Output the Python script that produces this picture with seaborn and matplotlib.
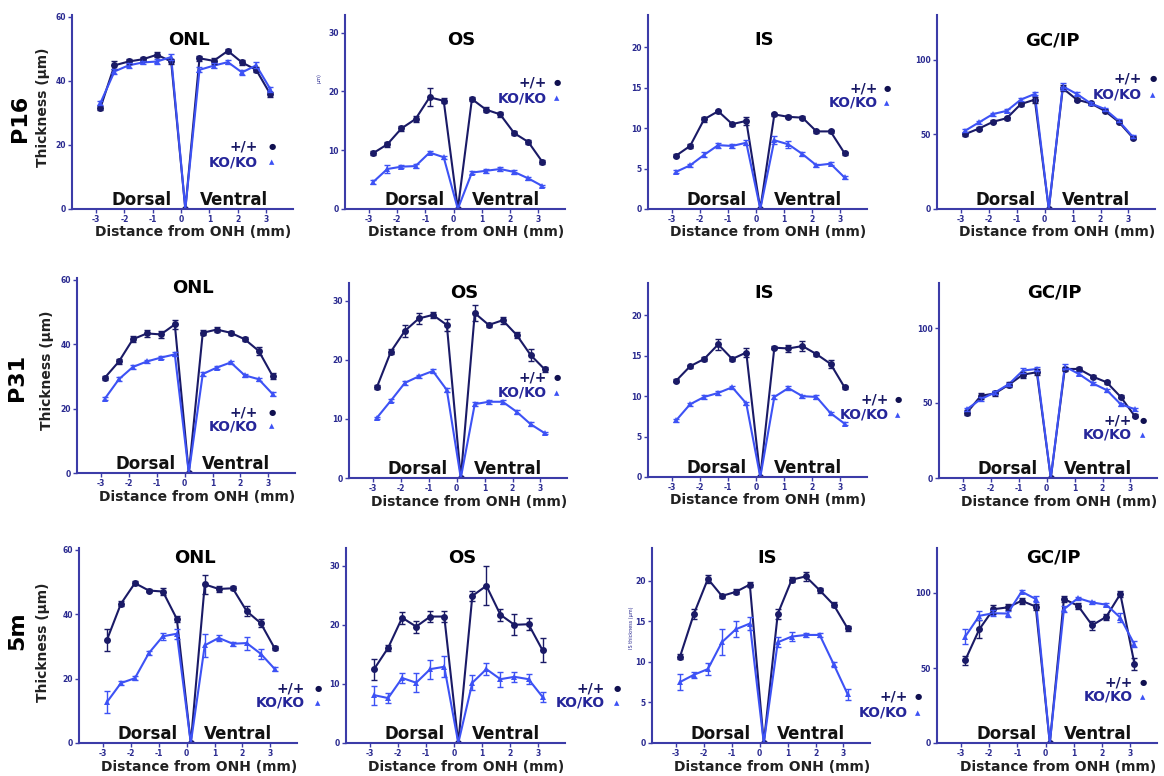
import numpy as np
import pandas as pd
import matplotlib
matplotlib.use("Agg")
import matplotlib.pyplot as plt
import matplotlib.transforms as mtransforms
import seaborn as sns

# ================================
# DATA
# ================================
DIST = [-2.85, -2.35, -1.85, -1.35, -0.85, -0.35, 0.15, 0.65, 1.15, 1.65, 2.15, 2.65, 3.15]
AGES = ["P16", "P31", "5m"]
LAYERS = ["ONL", "OS", "IS", "GC/IP"]
XTICKS = [-3, -2, -1, 0, 1, 2, 3]

YTICKS = {
    "ONL": [0, 20, 40, 60],
    "OS": [0, 10, 20, 30],
    "IS": [0, 5, 10, 15, 20],
    "GC/IP": [0, 50, 100],
}
YTOP = {"ONL": 60.5, "OS": 33, "IS": 24, "GC/IP": 130}

# P16
P16_ONL_WT = [31.5, 44.8, 46.0, 46.7, 48.1, 46.0, 0, 47.0, 46.2, 49.3, 45.7, 43.4, 35.8]
P16_ONL_WT_ERR = [0.7, 1.2, 0.8, 0.7, 0.8, 0.8, 0, 0.8, 1.0, 0.7, 0.9, 0.8, 0.8]
P16_ONL_KO = [33.0, 42.9, 44.8, 45.7, 46.0, 47.4, 0, 43.4, 44.7, 45.8, 42.6, 44.8, 37.4]
P16_ONL_KO_ERR = [0.7, 0.8, 0.7, 0.6, 0.7, 0.8, 0, 0.8, 0.8, 0.7, 0.8, 0.9, 0.8]

P16_OS_WT = [9.5, 11.0, 13.7, 15.3, 19.0, 18.4, 0, 18.7, 16.9, 16.1, 12.9, 11.4, 8.0]
P16_OS_WT_ERR = [0.3, 0.4, 0.4, 0.5, 1.5, 0.4, 0, 0.4, 0.4, 0.4, 0.3, 0.3, 0.3]
P16_OS_KO = [4.6, 6.8, 7.2, 7.3, 9.6, 8.8, 0, 6.2, 6.5, 6.8, 6.3, 5.2, 3.9]
P16_OS_KO_ERR = [0.3, 0.6, 0.3, 0.3, 0.3, 0.3, 0, 0.3, 0.3, 0.3, 0.3, 0.3, 0.2]

P16_IS_WT = [6.6, 7.8, 11.1, 12.1, 10.5, 10.9, 0, 11.7, 11.4, 11.3, 9.6, 9.6, 6.9]
P16_IS_WT_ERR = [0.2, 0.2, 0.3, 0.2, 0.2, 0.5, 0, 0.2, 0.2, 0.2, 0.2, 0.2, 0.2]
P16_IS_KO = [4.6, 5.4, 6.7, 7.9, 7.8, 8.2, 0, 8.5, 8.0, 6.8, 5.4, 5.6, 3.9]
P16_IS_KO_ERR = [0.2, 0.2, 0.3, 0.3, 0.2, 0.3, 0, 0.5, 0.4, 0.3, 0.2, 0.2, 0.2]

P16_GC_WT = [50.1, 53.9, 58.4, 60.9, 70.3, 73.3, 0, 80.9, 73.3, 70.8, 65.8, 58.4, 47.9]
P16_GC_WT_ERR = [1, 1, 1, 1, 1.5, 2, 0, 2, 1, 1, 1, 1, 1]
P16_GC_KO = [52.4, 58.0, 63.6, 65.8, 73.3, 77.1, 0, 82.2, 77.1, 70.8, 67.0, 59.1, 48.5]
P16_GC_KO_ERR = [1, 1, 1, 1, 1, 1, 0, 2.5, 1, 1, 1, 1, 1]

# P31
P31_ONL_WT = [29.6, 34.6, 41.5, 43.3, 43.0, 46.1, 0, 43.5, 44.5, 43.5, 41.5, 37.9, 30.1]
P31_ONL_WT_ERR = [0.6, 0.8, 1, 1, 1, 1.5, 0, 0.8, 0.7, 0.7, 0.7, 1.2, 0.8]
P31_ONL_KO = [23.1, 29.1, 32.9, 34.6, 35.8, 36.8, 0, 30.7, 32.7, 34.3, 30.3, 29.1, 24.5]
P31_ONL_KO_ERR = [0.5, 0.6, 0.6, 0.5, 0.5, 0.6, 0, 0.6, 0.5, 0.5, 0.5, 0.5, 0.5]

P31_OS_WT = [15.4, 21.4, 24.9, 27.0, 27.6, 25.9, 0, 27.9, 25.9, 26.7, 24.2, 20.8, 18.4]
P31_OS_WT_ERR = [0.4, 0.4, 1, 1, 0.5, 1, 0, 1.3, 0.4, 0.6, 0.5, 1, 0.4]
P31_OS_KO = [10.2, 13.1, 16.1, 17.2, 18.1, 14.9, 0, 12.5, 12.9, 12.9, 11.2, 9.1, 7.6]
P31_OS_KO_ERR = [0.2, 0.3, 0.3, 0.3, 0.3, 0.3, 0, 0.3, 0.3, 0.3, 0.3, 0.3, 0.2]

P31_IS_WT = [11.9, 13.7, 14.6, 16.4, 14.6, 15.4, 0, 16.0, 15.9, 16.2, 15.2, 14.0, 11.1]
P31_IS_WT_ERR = [0.2, 0.2, 0.2, 0.7, 0.2, 0.5, 0, 0.2, 0.4, 0.6, 0.2, 0.5, 0.2]
P31_IS_KO = [7.0, 9.0, 9.9, 10.4, 11.1, 9.1, 0, 9.9, 11.0, 10.0, 9.9, 7.9, 6.6]
P31_IS_KO_ERR = [0.2, 0.2, 0.2, 0.2, 0.2, 0.2, 0, 0.2, 0.2, 0.2, 0.2, 0.2, 0.2]

P31_GC_WT = [43.6, 54.8, 56.4, 62.2, 68.9, 70.5, 0, 72.7, 72.7, 67.6, 63.8, 54.1, 41.4]
P31_GC_WT_ERR = [1.5, 2, 1.5, 1.5, 2, 2, 0, 1.5, 1.5, 1, 1, 1, 1]
P31_GC_KO = [45.9, 52.6, 57.0, 62.6, 71.6, 72.7, 0, 74.3, 69.4, 63.1, 58.6, 49.2, 45.9]
P31_GC_KO_ERR = [1, 1.5, 1, 1, 1.5, 1.5, 0, 1.5, 1, 1, 1, 1, 1]

# 5 months
M5_ONL_WT = [32.0, 43.2, 49.6, 47.3, 47.0, 38.5, 0, 49.2, 47.8, 48.0, 40.9, 37.2, 29.4]
M5_ONL_WT_ERR = [3.5, 0.8, 0.6, 0.6, 1, 1, 0, 3, 1, 0.6, 1.5, 1.3, 0.6]
M5_ONL_KO = [12.7, 18.6, 20.1, 27.9, 33.1, 33.9, 0, 30.3, 32.6, 30.8, 31.0, 27.7, 23.0]
M5_ONL_KO_ERR = [3.5, 0.6, 0.6, 0.6, 1, 1.5, 0, 3.5, 1, 0.6, 2, 1.5, 0.6]

M5_OS_WT = [12.5, 16.1, 21.2, 19.7, 21.4, 21.4, 0, 24.9, 26.6, 21.7, 20.0, 20.1, 15.7]
M5_OS_WT_ERR = [1.8, 0.5, 1, 1, 1, 1, 0, 0.8, 3.3, 1, 1.8, 1, 2]
M5_OS_KO = [8.1, 7.6, 11.0, 10.2, 12.5, 12.9, 0, 10.2, 12.5, 10.8, 11.2, 10.8, 7.8]
M5_OS_KO_ERR = [1.6, 0.8, 0.8, 1.6, 1.6, 1.8, 0, 1.3, 1, 1.3, 0.8, 0.8, 0.9]

M5_IS_WT = [10.6, 15.9, 20.2, 18.1, 18.6, 19.5, 0, 15.9, 20.1, 20.5, 18.8, 17.0, 14.1]
M5_IS_WT_ERR = [0.3, 0.6, 0.5, 0.3, 0.3, 0.3, 0, 0.6, 0.3, 0.6, 0.3, 0.3, 0.3]
M5_IS_KO = [7.5, 8.4, 9.1, 12.4, 14.0, 14.7, 0, 12.4, 13.1, 13.3, 13.3, 9.7, 6.0]
M5_IS_KO_ERR = [1, 0.4, 0.7, 1.6, 1, 0.8, 0, 0.6, 0.6, 0.3, 0.3, 0.3, 0.7]

M5_GC_WT = [55.2, 75.8, 89.2, 90.4, 94.8, 91.0, 0, 96.0, 91.5, 78.5, 84.1, 99.3, 52.9]
M5_GC_WT_ERR = [3, 6, 3, 2, 2, 2, 0, 2, 2, 3, 2, 2, 4]
M5_GC_KO = [70.9, 84.8, 86.5, 86.3, 100.9, 96.0, 0, 89.2, 96.6, 93.7, 92.2, 83.6, 65.7]
M5_GC_KO_ERR = [5, 3, 2, 2, 1, 2, 0, 2, 1, 1, 1, 3, 2]

PANELS = {
    ("P16", "ONL"): (P16_ONL_WT, P16_ONL_WT_ERR, P16_ONL_KO, P16_ONL_KO_ERR),
    ("P16", "OS"): (P16_OS_WT, P16_OS_WT_ERR, P16_OS_KO, P16_OS_KO_ERR),
    ("P16", "IS"): (P16_IS_WT, P16_IS_WT_ERR, P16_IS_KO, P16_IS_KO_ERR),
    ("P16", "GC/IP"): (P16_GC_WT, P16_GC_WT_ERR, P16_GC_KO, P16_GC_KO_ERR),
    ("P31", "ONL"): (P31_ONL_WT, P31_ONL_WT_ERR, P31_ONL_KO, P31_ONL_KO_ERR),
    ("P31", "OS"): (P31_OS_WT, P31_OS_WT_ERR, P31_OS_KO, P31_OS_KO_ERR),
    ("P31", "IS"): (P31_IS_WT, P31_IS_WT_ERR, P31_IS_KO, P31_IS_KO_ERR),
    ("P31", "GC/IP"): (P31_GC_WT, P31_GC_WT_ERR, P31_GC_KO, P31_GC_KO_ERR),
    ("5m", "ONL"): (M5_ONL_WT, M5_ONL_WT_ERR, M5_ONL_KO, M5_ONL_KO_ERR),
    ("5m", "OS"): (M5_OS_WT, M5_OS_WT_ERR, M5_OS_KO, M5_OS_KO_ERR),
    ("5m", "IS"): (M5_IS_WT, M5_IS_WT_ERR, M5_IS_KO, M5_IS_KO_ERR),
    ("5m", "GC/IP"): (M5_GC_WT, M5_GC_WT_ERR, M5_GC_KO, M5_GC_KO_ERR),
}

# ================================
# LAYOUT / STYLE (pixels of a 1164x776 canvas)
# ================================
W, H = 1164, 776
AX_BOX = [
    [(72, 15, 293, 209), (345, 15, 565, 209), (648, 15, 867, 209), (937, 15, 1155, 209)],
    [(77, 278, 295, 473), (349, 283, 567, 478), (648, 283, 867, 477), (939, 283, 1157, 478)],
    [(79, 548, 297, 743), (346, 548, 565, 743), (652, 548, 870, 743), (937, 548, 1157, 743)],
]
TITLE_Y = [0.87, 0.95, 0.95]
# legend: (text right edge x, marker x, y of +/+, y of KO/KO)
LEGEND_POS = [
    [(258, 272, 146, 162), (547, 557, 83, 98), (878, 887, 88, 103), (1142, 1153, 78, 95)],
    [(258, 272, 412, 426), (547, 557, 377, 393), (889, 898, 400, 415), (1132, 1143, 420, 435)],
    [(305, 318, 688, 703), (605, 617, 688, 703), (908, 918, 697, 713), (1133, 1143, 683, 697)],
]
ROW_LABEL_POS = [(20, 118), (17, 377), (17, 631)]
YLABEL_POS = [(43, 107), (47, 370), (43, 642)]

WT_COLOR = "#1a1a66"
KO_COLOR = "#3d52f5"
AXIS_COLOR = "#3c3ca8"
TICK_COLOR = "#2a2a90"


def fx(x):
    return x / W


def fy(y):
    return 1 - y / H


sns.set_style("ticks")
plt.rcParams["font.family"] = ["DejaVu Sans"]

fig = plt.figure(figsize=(W / 100, H / 100), dpi=100)

for r, age in enumerate(AGES):
    for c, layer in enumerate(LAYERS):
        l, t, rgt, b = AX_BOX[r][c]
        ax = fig.add_axes([fx(l), fy(b), (rgt - l) / W, (b - t) / H])
        wt, wt_err, ko, ko_err = PANELS[(age, layer)]

        df = pd.DataFrame({
            "dist": DIST + DIST,
            "thick": wt + ko,
            "geno": ["+/+"] * len(DIST) + ["KO/KO"] * len(DIST),
        })
        sns.lineplot(data=df, x="dist", y="thick", hue="geno", style="geno",
                     markers={"+/+": "o", "KO/KO": "^"}, dashes=False,
                     palette={"+/+": WT_COLOR, "KO/KO": KO_COLOR},
                     markersize=5, markeredgewidth=0, linewidth=1.5,
                     sort=False, legend=False, ax=ax)
        ax.errorbar(DIST, wt, yerr=wt_err, fmt="none", ecolor=WT_COLOR,
                    elinewidth=1, capsize=2, capthick=1)
        ax.errorbar(DIST, ko, yerr=ko_err, fmt="none", ecolor=KO_COLOR,
                    elinewidth=1, capsize=2, capthick=1)

        ax.set_xlim(-3.85, 3.95)
        ax.set_ylim(0, YTOP[layer])
        ax.set_xticks(XTICKS)
        ax.set_xticklabels([str(v) for v in XTICKS])
        ax.set_yticks(YTICKS[layer])
        ax.set_yticklabels([str(v) for v in YTICKS[layer]])
        ax.tick_params(axis="both", colors=AXIS_COLOR, labelcolor=TICK_COLOR,
                       labelsize=5.5, length=3, width=1, pad=1.5)
        for lab in ax.get_xticklabels() + ax.get_yticklabels():
            lab.set_fontweight("bold")
        sns.despine(ax=ax)
        for s in ["left", "bottom"]:
            ax.spines[s].set_color(AXIS_COLOR)
            ax.spines[s].set_linewidth(1.5)

        ax.set_ylabel("")
        ax.set_xlabel("Distance from ONH (mm)", fontsize=10, fontweight="bold",
                      color="#222222")
        ax.xaxis.set_label_coords(0.55, -0.085)

        ax.text(0.53, TITLE_Y[r], layer, transform=ax.transAxes, ha="center",
                va="center", fontsize=13, fontweight="bold", color="black")

        trans = mtransforms.blended_transform_factory(ax.transData, ax.transAxes)
        ax.text(-1.4, 0.02, "Dorsal", transform=trans, ha="center", va="baseline",
                fontsize=12, fontweight="bold", color="#111111")
        ax.text(1.85, 0.02, "Ventral", transform=trans, ha="center", va="baseline",
                fontsize=12, fontweight="bold", color="#111111")

        # legend text + symbols
        tx, mx, y1, y2 = LEGEND_POS[r][c]
        fig.text(fx(tx), fy(y1), "+/+", ha="right", va="center", fontsize=10,
                 fontweight="bold", color=WT_COLOR)
        fig.text(fx(mx), fy(y1), "\u25CF", ha="center", va="center", fontsize=6,
                 color="#101050")
        fig.text(fx(tx), fy(y2), "KO/KO", ha="right", va="center", fontsize=10,
                 fontweight="bold", color="#26269a")
        fig.text(fx(mx), fy(y2), "\u25B2", ha="center", va="center", fontsize=5,
                 color=KO_COLOR)

    # row label + y label on the first column
    rx, ry = ROW_LABEL_POS[r]
    fig.text(fx(rx), fy(ry), age, rotation=90, ha="center", va="center",
             fontsize=16, fontweight="bold", color="black")
    yx, yy = YLABEL_POS[r]
    fig.text(fx(yx), fy(yy), "Thickness (\u03bcm)", rotation=90, ha="center",
             va="center", fontsize=10, fontweight="bold", color="#222222")

# leftover tiny axis captions from the source figure
fig.text(fx(319), fy(78), "\u03bcm)", rotation=90, ha="center", va="center",
         fontsize=3.5, color=TICK_COLOR)
fig.text(fx(632), fy(628), "IS thickness (\u03bcm)", rotation=90, ha="center",
         va="center", fontsize=3.5, color=TICK_COLOR)

fig.savefig("out.png", dpi=100, facecolor="white")
